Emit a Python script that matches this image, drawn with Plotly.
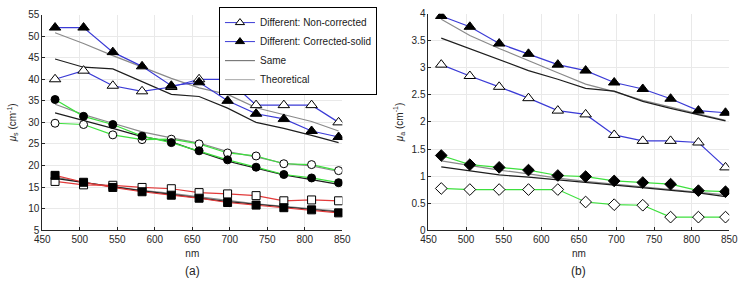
import plotly.graph_objects as go
from plotly.subplots import make_subplots

# wavelengths (nm)
wl = [467, 505, 544, 583, 622, 659, 697, 735, 772, 809, 845]

# panel (a): mu_s
a_blue_open = [40.0, 42.0, 38.5, 37.2, 38.2, 40.0, 40.0, 34.0, 34.0, 34.0, 30.0]
a_blue_filled = [52.0, 52.0, 46.3, 43.0, 38.5, 39.3, 35.0, 32.0, 30.8, 28.0, 26.6]
a_blue_same = [44.7, 42.8, 42.4, 39.5, 36.5, 36.0, 33.3, 30.0, 28.6, 27.0, 25.3]
a_blue_theo = [50.8, 48.3, 45.5, 42.8, 40.2, 38.0, 36.5, 33.4, 31.8, 30.2, 28.0]

a_green_open = [29.8, 29.5, 27.1, 26.0, 26.1, 25.0, 22.9, 22.2, 20.4, 20.2, 18.8]
a_green_filled = [35.3, 31.4, 29.5, 26.8, 25.3, 23.4, 21.3, 19.6, 17.9, 17.1, 16.0]
a_green_same = [32.2, 30.5, 28.6, 26.7, 25.5, 23.2, 21.0, 19.4, 17.8, 16.7, 15.6]
a_green_theo = [34.2, 31.8, 29.8, 27.8, 26.4, 25.2, 23.2, 22.0, 20.5, 19.9, 18.6]

a_red_open = [16.3, 15.5, 15.4, 14.9, 14.6, 13.7, 13.4, 13.0, 11.8, 12.0, 11.8]
a_red_filled = [17.7, 16.1, 14.9, 13.9, 13.1, 12.4, 11.4, 10.8, 10.2, 9.7, 9.0]
a_red_same = [17.0, 16.0, 15.0, 14.1, 13.3, 12.5, 11.6, 11.0, 10.4, 9.9, 9.2]
a_red_theo = [17.3, 16.1, 15.1, 14.2, 13.5, 12.7, 11.8, 11.1, 10.5, 10.0, 9.4]

# panel (b): mu_a
b_blue_open = [3.06, 2.85, 2.65, 2.44, 2.21, 2.14, 1.76, 1.65, 1.65, 1.62, 1.16]
b_blue_filled = [3.96, 3.76, 3.45, 3.26, 3.06, 2.95, 2.73, 2.61, 2.43, 2.21, 2.17]
b_blue_same = [3.55, 3.35, 3.15, 2.95, 2.79, 2.62, 2.57, 2.38, 2.25, 2.14, 2.02]
b_blue_theo = [3.90, 3.60, 3.36, 3.13, 2.91, 2.70, 2.56, 2.40, 2.27, 2.15, 2.03]

b_green_open = [0.77, 0.75, 0.75, 0.75, 0.75, 0.52, 0.47, 0.46, 0.24, 0.24, 0.24]
b_green_filled = [1.38, 1.21, 1.16, 1.11, 1.01, 0.99, 0.91, 0.88, 0.85, 0.73, 0.71]
b_green_same = [1.17, 1.10, 1.02, 0.98, 0.93, 0.88, 0.84, 0.78, 0.73, 0.69, 0.62]
b_green_theo = [1.28, 1.19, 1.11, 1.04, 0.96, 0.90, 0.85, 0.80, 0.75, 0.70, 0.65]

x_ticks = [450, 500, 550, 600, 650, 700, 750, 800, 850]

BLUE = "#3b3bd6"
GREEN = "#3ee03e"
RED = "#e23a3a"
SAME = "#1e1e1e"
THEO = "#8a8a8a"
FONT = "Liberation Sans, Arial, sans-serif"

fig = make_subplots(rows=1, cols=2)


def line(col, y, color, width=1.2):
    fig.add_trace(go.Scatter(x=wl, y=y, mode="lines",
                             line=dict(color=color, width=width),
                             showlegend=False, hoverinfo="skip"),
                  row=1, col=col)


def marked(col, y, color, symbol, filled, size):
    fig.add_trace(go.Scatter(
        x=wl, y=y, mode="lines+markers",
        line=dict(color=color, width=1.2),
        marker=dict(symbol=symbol, size=size,
                    color="black" if filled else "white",
                    line=dict(color="black", width=1)),
        showlegend=False), row=1, col=col)


# panel a
line(1, a_blue_theo, THEO)
line(1, a_blue_same, SAME)
line(1, a_green_theo, THEO)
line(1, a_green_same, SAME)
line(1, a_red_theo, THEO)
line(1, a_red_same, SAME)
marked(1, a_blue_open, BLUE, "triangle-up", False, 10)
marked(1, a_blue_filled, BLUE, "triangle-up", True, 10)
marked(1, a_green_open, GREEN, "circle", False, 8)
marked(1, a_green_filled, GREEN, "circle", True, 8)
marked(1, a_red_open, RED, "square", False, 8)
marked(1, a_red_filled, RED, "square", True, 8)

# panel b
line(2, b_blue_theo, THEO)
line(2, b_blue_same, SAME)
line(2, b_green_theo, THEO)
line(2, b_green_same, SAME)
marked(2, b_blue_open, BLUE, "triangle-up", False, 10)
marked(2, b_blue_filled, BLUE, "triangle-up", True, 10)
marked(2, b_green_open, GREEN, "diamond", False, 9)
marked(2, b_green_filled, GREEN, "diamond", True, 9)

# legend entries
legend_items = [
    ("Different: Non-corrected", BLUE, "triangle-up", "white"),
    ("Different: Corrected-solid", BLUE, "triangle-up", "black"),
    ("Same", "#7a7a7a", None, None),
    ("Theoretical", "#b4b4b4", None, None),
]
for name, c, sym, fill in legend_items:
    if sym:
        fig.add_trace(go.Scatter(x=[None], y=[None], mode="lines+markers", name=name,
                                 line=dict(color=c, width=1),
                                 marker=dict(symbol=sym, size=8, color=fill,
                                             line=dict(color="black", width=1))),
                      row=1, col=1)
    else:
        fig.add_trace(go.Scatter(x=[None], y=[None], mode="lines", name=name,
                                 line=dict(color=c, width=1.2)), row=1, col=1)

axis_common = dict(showgrid=True, gridcolor="#e9e9e9", gridwidth=1,
                   showline=True, linecolor="#262626", linewidth=1,
                   ticks="inside", ticklen=3, tickcolor="#262626",
                   tickfont=dict(family=FONT, size=10, color="#262626"),
                   zeroline=False)

fig.update_xaxes(range=[450, 850], tickvals=x_ticks, **axis_common)
fig.update_xaxes(domain=[0.047, 0.458], row=1, col=1)
fig.update_xaxes(domain=[0.576, 0.988], row=1, col=2)
for c in (1, 2):
    fig.update_xaxes(title=dict(text="nm", font=dict(family=FONT, size=10, color="#262626"),
                                standoff=5), row=1, col=c)

fig.update_yaxes(range=[5, 55], dtick=5, domain=[0.17, 0.968], row=1, col=1, **axis_common)
fig.update_yaxes(range=[0, 4], dtick=0.5, domain=[0.17, 0.971], row=1, col=2, **axis_common)
fig.update_yaxes(title=dict(text="<i>μ</i><sub>s</sub> (cm<sup>-1</sup>)",
                            font=dict(family=FONT, size=10, color="#262626"), standoff=9),
                 row=1, col=1)
fig.update_yaxes(title=dict(text="<i>μ</i><sub>a</sub> (cm<sup>-1</sup>)",
                            font=dict(family=FONT, size=10, color="#262626"), standoff=6),
                 row=1, col=2)

fig.add_annotation(text="(a)", x=0.2525, y=0.0, xref="paper", yref="paper",
                   xanchor="center", yanchor="bottom", showarrow=False, yshift=-4,
                   font=dict(family=FONT, size=12, color="#262626"))
fig.add_annotation(text="(b)", x=0.782, y=0.0, xref="paper", yref="paper",
                   xanchor="center", yanchor="bottom", showarrow=False, yshift=-4,
                   font=dict(family=FONT, size=12, color="#262626"))

fig.update_layout(
    width=747, height=282,
    margin=dict(l=0, r=0, t=0, b=0),
    paper_bgcolor="white", plot_bgcolor="white",
    showlegend=True,
    legend=dict(x=0.289, y=0.996, xanchor="left", yanchor="top",
                bgcolor="white", bordercolor="black", borderwidth=1,
                font=dict(family=FONT, size=10, color="#1a1a1a"),
                tracegroupgap=0, itemwidth=30),
)

fig.write_html("out.html")
